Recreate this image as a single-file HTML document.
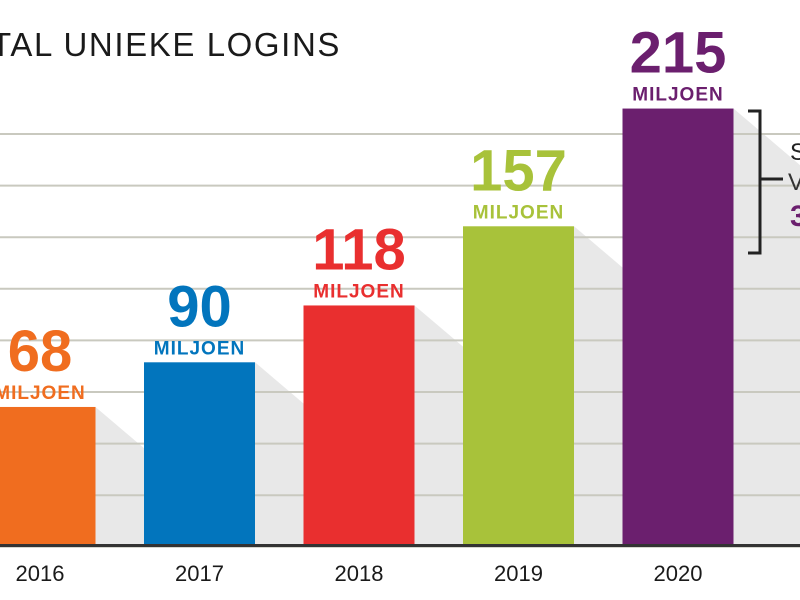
<!DOCTYPE html>
<html><head><meta charset="utf-8"><style>
html,body{margin:0;padding:0;background:#fff;width:800px;height:600px;overflow:hidden}
svg{display:block;font-family:"Liberation Sans",sans-serif}
</style></head><body>
<svg id="chart" width="800" height="600" viewBox="0 0 800 600" xmlns="http://www.w3.org/2000/svg">
<text x="341" y="56" text-anchor="end" font-size="33" letter-spacing="1.6" fill="#1a1a1a">AANTAL UNIEKE LOGINS</text>
<g id="shadows"></g>
<g id="grid"></g>
<g id="bars"></g>
<line x1="0" y1="545.5" x2="800" y2="545.5" stroke="#333" stroke-width="3"/>
<g fill="none" stroke="#222" stroke-width="3">
<polyline points="748,111 760,111 760,253 748,253"/>
<line x1="760" y1="179" x2="783" y2="179"/>
</g>
<text x="790" y="160" font-size="24" fill="#222">S</text>
<text x="788" y="190" font-size="24" fill="#333">V</text>
<text x="790" y="226" font-size="30" font-weight="bold" fill="#6b1f6e">3</text>
</svg>
<script>
const years = ["2016","2017","2018","2019","2020"];
const values = [68, 90, 118, 157, 215];
const valueLabels = ["68","90","118","157","215"];
const colors = ["#f06d1f","#0275bd","#e92f2f","#a8c23a","#6b1f6e"];
const gridTicks = [0,1,2,3,4,5,6,7,8];

const NS = "http://www.w3.org/2000/svg";
const baseY = 545, pxPerUnit = 2.03, barW = 111, step = 159.5, firstCenter = 40;
function yScale(v){ return baseY - v * pxPerUnit; }
function xCenter(i){ return firstCenter + i * step; }
function mk(tag, attrs, parent){ const e = document.createElementNS(NS, tag); for (const k in attrs) e.setAttribute(k, attrs[k]); parent.appendChild(e); return e; }

const grid = document.getElementById("grid");
gridTicks.forEach(t => {
  const y = 134 + t * 51.6;
  const l = mk("line", {x1:0, x2:800, y1:y, y2:y, stroke:"#c9c9bf", "stroke-width":2}, grid);
  
  
});

const shadows = document.getElementById("shadows");
const bars = document.getElementById("bars");
values.forEach((v, i) => {
  const cx = xCenter(i), left = cx - barW/2, right = cx + barW/2, top = yScale(v);
  const nextL = i < values.length - 1 ? xCenter(i+1) - barW/2 : 800;
  const dy = (nextL - right) * 0.85;
  const sh = mk("polygon", {points:`${right},${top} ${nextL},${top+dy} ${nextL},${baseY} ${right},${baseY}`, fill:"#e8e8e8"}, shadows);
  
  

  const r = mk("rect", {x:left, y:top, width:barW, height:baseY - top, fill:colors[i]}, bars);
  
  

  const num = mk("text", {x:cx, y:top - 36, "text-anchor":"middle", "font-size":58, "font-weight":"bold", fill:colors[i]}, bars);
  num.textContent = valueLabels[i];
  
  

  const unit = mk("text", {x:cx, y:top - 8, "text-anchor":"middle", "font-size":19, "font-weight":"bold", "letter-spacing":"1", fill:colors[i]}, bars);
  unit.textContent = "MILJOEN";
  
  

  const yr = mk("text", {x:cx, y:581, "text-anchor":"middle", "font-size":22, fill:"#1a1a1a"}, bars);
  yr.textContent = years[i];
  
  
});
</script>
</body></html>
